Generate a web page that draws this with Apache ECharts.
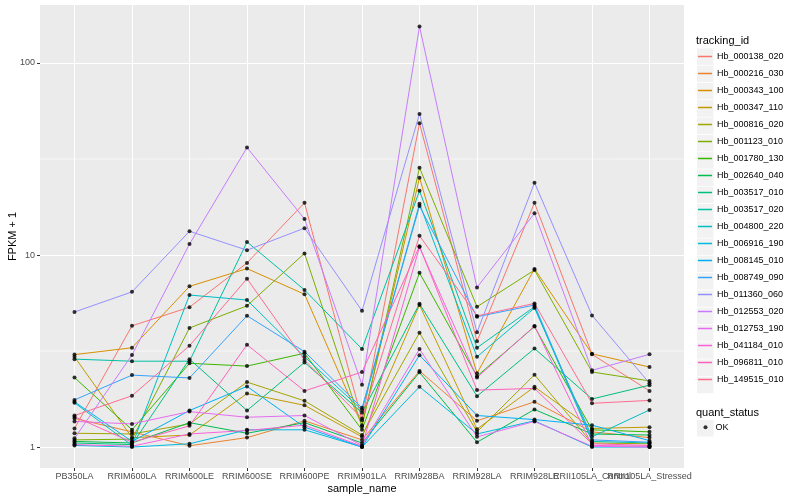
<!DOCTYPE html>
<html><head><meta charset="utf-8">
<script src="https://cdn.jsdelivr.net/npm/echarts@6/dist/echarts.min.js"></script>
<style>html,body{margin:0;padding:0;background:#fff}#c{width:800px;height:500px}</style>
</head><body><div id="c"></div>
<script>
// ---- data ----
const categories = ['PB350LA','RRIM600LA','RRIM600LE','RRIM600SE','RRIM600PE','RRIM901LA','RRIM928BA','RRIM928LA','RRIM928LE','RRII105LA_Control','RRII105LA_Stressed'];
const trackingIds = ['Hb_000138_020','Hb_000216_030','Hb_000343_100','Hb_000347_110','Hb_000816_020','Hb_001123_010','Hb_001780_130','Hb_002640_040','Hb_003517_010','Hb_003517_020','Hb_004800_220','Hb_006916_190','Hb_008145_010','Hb_008749_090','Hb_011360_060','Hb_012553_020','Hb_012753_190','Hb_041184_010','Hb_096811_010','Hb_149515_010'];
const hb_000138_020 = [1.25, 4.28, 5.35, 9.1, 18.7, 1.38, 48.6, 3.56, 18.7, 3.04, 1.96];
const hb_000216_030 = [1.41, 1.20, 1.016, 1.12, 1.37, 1.09, 2.49, 1.37, 1.72, 1.20, 1.12];
const hb_000343_100 = [3.03, 3.29, 6.87, 8.5, 6.25, 1.30, 25.3, 2.42, 8.47, 3.06, 2.61];
const hb_000347_110 = [2.95, 1.12, 1.155, 1.90, 1.65, 1.13, 5.50, 1.24, 2.06, 1.25, 1.27];
const hb_000816_020 = [1.18, 1.17, 1.32, 2.18, 1.74, 1.155, 3.94, 1.20, 2.38, 1.05, 1.04];
const hb_001123_010 = [1.09, 1.10, 4.17, 5.44, 10.2, 1.28, 28.5, 5.38, 8.35, 2.46, 2.21];
const hb_001780_130 = [2.30, 1.23, 2.73, 2.64, 3.08, 1.23, 8.08, 2.34, 4.24, 1.23, 1.20];
const hb_002640_040 = [1.07, 1.05, 1.34, 1.18, 1.34, 1.05, 2.45, 1.06, 1.57, 1.17, 1.155];
const hb_003517_010 = [1.05, 1.03, 2.87, 1.55, 2.76, 1.51, 5.57, 1.84, 3.26, 1.78, 2.10];
const hb_003517_020 = [2.87, 2.80, 2.80, 11.7, 6.58, 3.24, 21.6, 3.29, 5.38, 1.07, 1.05];
const hb_004800_220 = [1.70, 1.02, 6.19, 5.83, 2.95, 1.56, 18.5, 2.95, 5.30, 1.13, 1.56];
const hb_006916_190 = [1.02, 1.00, 1.04, 1.23, 1.23, 1.00, 2.06, 1.17, 1.37, 1.00, 1.00];
const hb_008145_010 = [1.72, 1.07, 1.55, 2.07, 1.27, 1.00, 3.01, 1.46, 1.39, 1.30, 1.08];
const hb_008749_090 = [1.76, 2.37, 2.29, 4.83, 3.14, 1.60, 18.0, 4.77, 5.49, 1.09, 1.06];
const hb_011360_060 = [5.05, 6.43, 13.3, 10.6, 13.8, 5.12, 54.3, 3.96, 23.8, 4.85, 2.15];
const hb_012553_020 = [1.11, 3.02, 11.4, 36.3, 15.4, 2.11, 155, 6.78, 16.5, 2.51, 3.04];
const hb_012753_190 = [1.36, 1.32, 1.53, 1.43, 1.46, 1.02, 3.24, 1.13, 1.36, 1.01, 1.00];
const hb_041184_010 = [1.03, 1.01, 1.17, 1.22, 1.30, 1.01, 11.0, 2.30, 4.27, 1.02, 1.01];
const hb_096811_010 = [1.44, 1.06, 1.29, 3.41, 1.96, 2.46, 11.1, 1.98, 2.02, 1.04, 1.02];
const hb_149515_010 = [1.46, 1.85, 3.37, 7.53, 2.84, 1.41, 12.6, 4.82, 5.60, 1.69, 1.75];
const seriesValues = [hb_000138_020, hb_000216_030, hb_000343_100, hb_000347_110, hb_000816_020, hb_001123_010, hb_001780_130, hb_002640_040, hb_003517_010, hb_003517_020, hb_004800_220, hb_006916_190, hb_008145_010, hb_008749_090, hb_011360_060, hb_012553_020, hb_012753_190, hb_041184_010, hb_096811_010, hb_149515_010];
const colors = ['#F8766D','#EA8331','#D89000','#C09B00','#A3A500','#7CAE00','#39B600','#00BB4E','#00BF7D','#00C1A3','#00BFC4','#00BAE0','#00B0F6','#35A2FF','#9590FF','#C77CFF','#E76BF3','#FA62DB','#FF62BC','#FF6C91'];
const yTicks = [1, 10, 100];
const yMinorBreaks = [3.1623, 31.623];
const quantStatus = 'OK';

// ---- chart ----
const FONT = '"Liberation Sans", Arial, Helvetica, sans-serif';
const X_MIN = -0.6, X_MAX = categories.length - 1 + 0.6;
const catIdx = categories.map((_, i) => i);
const lastIdx = categories.length - 1;
const mainLabelIdx = catIdx.filter(i => i !== lastIdx - 1);
// legend key icon: horizontal line centred in a 14 x 17 box (tiny corner marks fix the box)
const LINE_ICON = 'path://M0,0L0.01,0L0,0.01Z M14,17L13.99,17L14,16.99Z M0,7.7L14,7.7L14,9.3L0,9.3Z';

// thin white minor grid lines, drawn beneath the data lines across the full axis extent
const series = yMinorBreaks.map(v => ({
  type: 'line', silent: true, z: 1, symbol: 'none', clip: false,
  lineStyle: { color: '#FFFFFF', width: 0.6 },
  data: [[X_MIN, v], [X_MAX, v]]
}));
trackingIds.forEach((id, k) => series.push({
  name: id, type: 'line', silent: true, z: 3,
  data: seriesValues[k].map((v, i) => [i, v]),
  symbol: 'none', lineStyle: { width: 1, color: colors[k] }, itemStyle: { color: colors[k] }
}));
const points = [];
seriesValues.forEach(arr => arr.forEach((v, i) => points.push([i, v])));
series.push({ name: quantStatus, type: 'scatter', data: points, symbol: 'circle', symbolSize: 4, itemStyle: { color: '#000' }, z: 5, silent: true });

const keyTop = 48, keyStep = 17.28;
const graphic = trackingIds.map((_, i) => ({ type: 'rect', silent: true, z: 0,
  shape: { x: 697, y: keyTop + i * keyStep + 0.4, width: 16.5, height: 16.5 }, style: { fill: '#F2F2F2' } }));
graphic.push({ type: 'rect', silent: true, z: 0, shape: { x: 697, y: 420, width: 16.5, height: 16.5 }, style: { fill: '#F2F2F2' } });

const axisTextStyle = { color: '#4D4D4D', fontSize: 9, fontFamily: FONT };
const option = {
  animation: false,
  backgroundColor: '#fff',
  textStyle: { fontFamily: FONT },
  grid: { left: 40, right: 116, top: 5, bottom: 32, show: true, backgroundColor: '#EBEBEB', borderWidth: 0, containLabel: false, outerBoundsMode: 'none' },
  title: [
    { text: 'tracking_id', left: 696, top: 35, padding: 0, textStyle: { fontSize: 11, fontWeight: 'normal', color: '#000', fontFamily: FONT } },
    { text: 'quant_status', left: 696, top: 407, padding: 0, textStyle: { fontSize: 11, fontWeight: 'normal', color: '#000', fontFamily: FONT } }
  ],
  legend: [
    { data: trackingIds.map((n, k) => ({ name: n, icon: LINE_ICON, itemStyle: { color: colors[k], borderWidth: 0 } })),
      orient: 'vertical', left: 698, top: keyTop, padding: 0, itemGap: 0, itemWidth: 14, itemHeight: keyStep,
      lineStyle: { width: 0 }, selectedMode: false, textStyle: { fontSize: 9, color: '#000', fontFamily: FONT } },
    { data: [quantStatus], orient: 'vertical', left: 703.5, top: 422.8, padding: 0, itemWidth: 4, itemHeight: 4, icon: 'circle',
      selectedMode: false, textStyle: { fontSize: 9, color: '#000', fontFamily: FONT, padding: [0, 0, 0, 3] } }
  ],
  graphic: graphic,
  xAxis: [{
    type: 'value', min: X_MIN, max: X_MAX,
    axisLine: { show: false, onZero: false },
    axisTick: { show: true, length: 3, lineStyle: { color: '#333', width: 1 }, customValues: catIdx },
    axisLabel: Object.assign({ customValues: mainLabelIdx, formatter: v => categories[Math.round(v)], margin: 4, hideOverlap: false, showMinLabel: true, showMaxLabel: true }, axisTextStyle),
    splitLine: { show: true, lineStyle: { color: '#fff', width: 1.07 } },
    name: 'sample_name', nameLocation: 'middle', nameGap: 15, nameMoveOverlap: false, nameTextStyle: { color: '#000', fontSize: 11, fontFamily: FONT }
  }, {
    type: 'value', min: X_MIN, max: X_MAX, position: 'bottom', offset: 0,
    axisLine: { show: false, onZero: false }, axisTick: { show: false, customValues: [lastIdx - 1] }, splitLine: { show: false },
    axisLabel: Object.assign({ customValues: [lastIdx - 1], formatter: v => categories[Math.round(v)], margin: 4, hideOverlap: false, showMinLabel: true, showMaxLabel: true }, axisTextStyle)
  }],
  yAxis: {
    type: 'log', logBase: 10, min: 0.778, max: 200.5, position: 'left',
    axisLine: { show: false, onZero: false },
    axisTick: { show: true, length: 3, lineStyle: { color: '#333', width: 1 }, customValues: yTicks },
    axisLabel: Object.assign({ customValues: yTicks, margin: 5, showMinLabel: true, showMaxLabel: true }, axisTextStyle),
    splitLine: { show: true, lineStyle: { color: '#fff', width: 1.07 } },
    name: 'FPKM + 1', nameLocation: 'middle', nameGap: 22, nameMoveOverlap: false, nameTextStyle: { color: '#000', fontSize: 11, fontFamily: FONT }
  },
  series: series
};
const chart = echarts.init(document.getElementById('c'), null, { renderer: 'canvas' });
chart.setOption(option);
</script></body></html>
